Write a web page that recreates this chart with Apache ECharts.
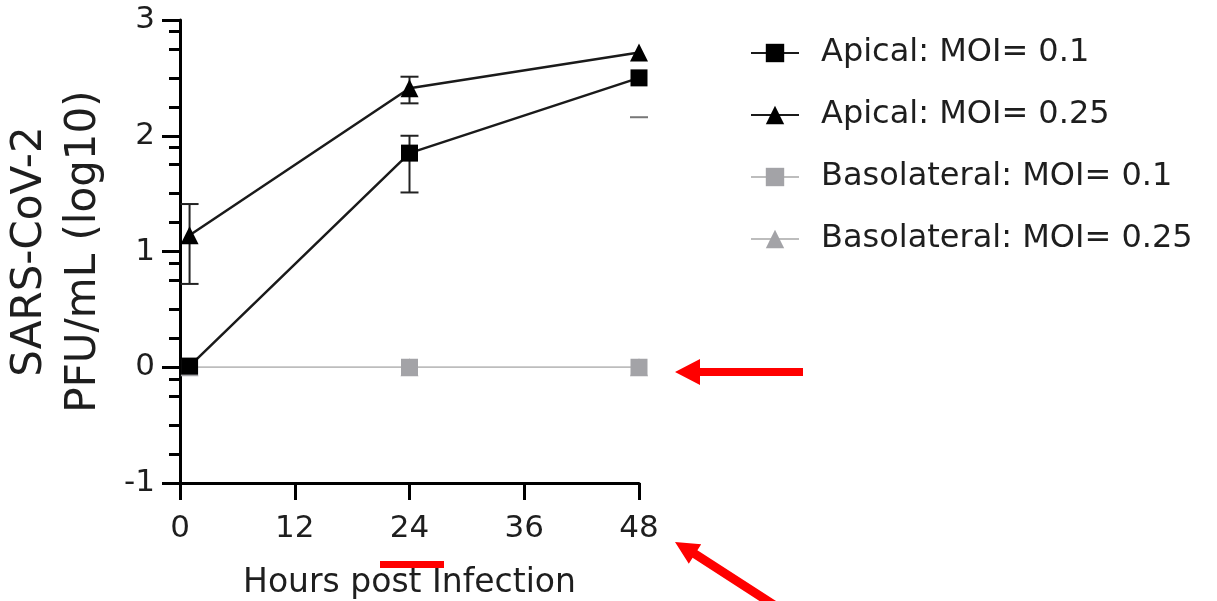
<!DOCTYPE html>
<html>
<head>
<meta charset="utf-8">
<script src="https://cdn.jsdelivr.net/npm/echarts@6/dist/echarts.min.js"></script>
<style>html,body{margin:0;padding:0;background:#fff}#c{width:1217px;height:601px}</style>
</head>
<body>
<div id="c"></div>
<script>
// ---- data ----
const hours = [1, 24, 48];
const seriesNames = ['Apical: MOI= 0.1', 'Apical: MOI= 0.25', 'Basolateral: MOI= 0.1', 'Basolateral: MOI= 0.25'];
const apical01 = [0.01, 1.85, 2.50];
const apical025 = [1.14, 2.41, 2.72];
const baso01 = [0, 0, 0];
const baso025 = [0, 0, 0];
const apical01Low = [null, 1.51, 2.16];
const apical01High = [null, 2.00, null];
const apical025Low = [0.72, 2.28, null];
const apical025High = [1.41, 2.51, null];
const xTickLabels = [0, 12, 24, 36, 48];
const yTickLabels = [-1, 0, 1, 2, 3];
const yExtraTicks = [2.9, 1.9, 0.9, -0.1];

const FONT = 'DejaVu Sans';
const chart = echarts.init(document.getElementById('c'), null, {renderer: 'canvas'});

function pairs(ys) { return hours.map((h, i) => [h, ys[i]]); }
function errData(low, high) { return hours.map((h, i) => [h, low[i], high[i]]); }

function errRender(color) {
  return function (params, api) {
    const x = api.value(0);
    const lo = api.value(1);
    const hi = api.value(2);
    const children = [];
    const hw = 9;
    const hasLo = lo !== null && !isNaN(lo);
    const hasHi = hi !== null && !isNaN(hi);
    const style = {stroke: color, lineWidth: 2, fill: null};
    if (hasLo && hasHi) {
      const a = api.coord([x, lo]), b = api.coord([x, hi]);
      children.push({type: 'line', shape: {x1: a[0], y1: a[1], x2: b[0], y2: b[1]}, style});
    }
    if (hasLo) {
      const a = api.coord([x, lo]);
      children.push({type: 'line', shape: {x1: a[0] - hw, y1: a[1], x2: a[0] + hw, y2: a[1]}, style: (hasHi ? style : {stroke: '#777', lineWidth: 2})});
    }
    if (hasHi) {
      const b = api.coord([x, hi]);
      children.push({type: 'line', shape: {x1: b[0] - hw, y1: b[1], x2: b[0] + hw, y2: b[1]}, style});
    }
    return {type: 'group', children};
  };
}

const axisCommon = {
  axisLine: {show: true, onZero: false, lineStyle: {color: '#000', width: 3}},
  splitLine: {show: false}
};

const option = {
  backgroundColor: '#fff',
  animation: false,
  grid: {left: 180, right: 578, top: 20, bottom: 118, containLabel: false, outerBoundsMode: 'none'},
  xAxis: {
    type: 'value', min: 0, max: 48, interval: 12,
    ...axisCommon,
    axisTick: {show: true, inside: false, length: 17, lineStyle: {color: '#000', width: 3}},
    axisLabel: {margin: 30, fontFamily: FONT, fontSize: 31, color: '#1e1e1e',
      formatter: v => xTickLabels.includes(v) ? String(v) : ''},
    name: 'Hours post Infection', nameLocation: 'middle', nameGap: 84,
    nameTextStyle: {fontFamily: FONT, fontSize: 33, color: '#1e1e1e'}
  },
  yAxis: [{
    type: 'value', min: -1, max: 3, interval: 1,
    ...axisCommon,
    axisTick: {show: true, length: 18, lineStyle: {color: '#000', width: 3}},
    minorTick: {show: true, splitNumber: 4, length: 11, lineStyle: {color: '#000', width: 3}},
    axisLabel: {margin: 25, fontFamily: FONT, fontSize: 31, color: '#1e1e1e',
      formatter: v => yTickLabels.includes(v) ? String(v) : ''},
    name: 'SARS-CoV-2\nPFU/mL (log10)', nameLocation: 'middle', nameGap: 69, nameRotate: 90,
    nameTextStyle: {fontFamily: FONT, fontSize: 42, lineHeight: 54, color: '#1e1e1e', align: 'center'}
  }, {
    type: 'value', min: -1, max: 3, position: 'left',
    axisLine: {show: false}, splitLine: {show: false}, axisLabel: {show: false},
    axisTick: {show: true, length: 11, customValues: yExtraTicks, lineStyle: {color: '#000', width: 3}}
  }],
  legend: {
    orient: 'vertical', left: 745, top: 32,
    itemWidth: 48, itemHeight: 23, itemGap: 30,
    data: seriesNames,
    textStyle: {fontFamily: FONT, fontSize: 32, color: '#1e1e1e', padding: [0, 0, 0, 17]}
  },
  series: [
    {name: seriesNames[3], type: 'line', data: pairs(baso025), symbol: 'triangle', symbolSize: 18, clip: false, z: 2,
      itemStyle: {color: '#a3a3a7'}, lineStyle: {color: '#bdbdbd', width: 1.5}},
    {name: seriesNames[2], type: 'line', data: pairs(baso01), symbol: 'rect', symbolSize: 17, clip: false, z: 3,
      itemStyle: {color: '#a3a3a7'}, lineStyle: {color: '#bdbdbd', width: 1.5}},
    {name: seriesNames[1], type: 'line', data: pairs(apical025), symbol: 'triangle', symbolSize: 18, clip: false, z: 4,
      itemStyle: {color: '#000'}, lineStyle: {color: '#1a1a1a', width: 2.5}},
    {name: seriesNames[0], type: 'line', data: pairs(apical01), symbol: 'rect', symbolSize: 17, clip: false, z: 5,
      itemStyle: {color: '#000'}, lineStyle: {color: '#1a1a1a', width: 2.5}},
    {type: 'custom', data: errData(apical025Low, apical025High), renderItem: errRender('#222'), clip: false, z: 4,
      encode: {x: 0, y: [1, 2]}, silent: true},
    {type: 'custom', data: errData(apical01Low, apical01High), renderItem: errRender('#222'), clip: false, z: 5,
      encode: {x: 0, y: [1, 2]}, silent: true}
  ],
  graphic: [
    {type: 'polygon', silent: true, z: 100,
      shape: {points: [[675, 372], [700, 359], [700, 368], [803, 368], [803, 376], [700, 376], [700, 385]]},
      style: {fill: '#ff0000'}},
    {type: 'polygon', silent: true, z: 100,
      shape: {points: [[675, 542], [701.2, 544.3], [697.4, 550.2], [789.8, 609.9], [785, 617.5], [692.6, 557.8], [688.8, 563.7]]},
      style: {fill: '#ff0000'}},
    {type: 'rect', silent: true, z: 100, shape: {x: 380, y: 561, width: 64, height: 7}, style: {fill: '#ff0000'}}
  ]
};
chart.setOption(option);
</script>
</body>
</html>
